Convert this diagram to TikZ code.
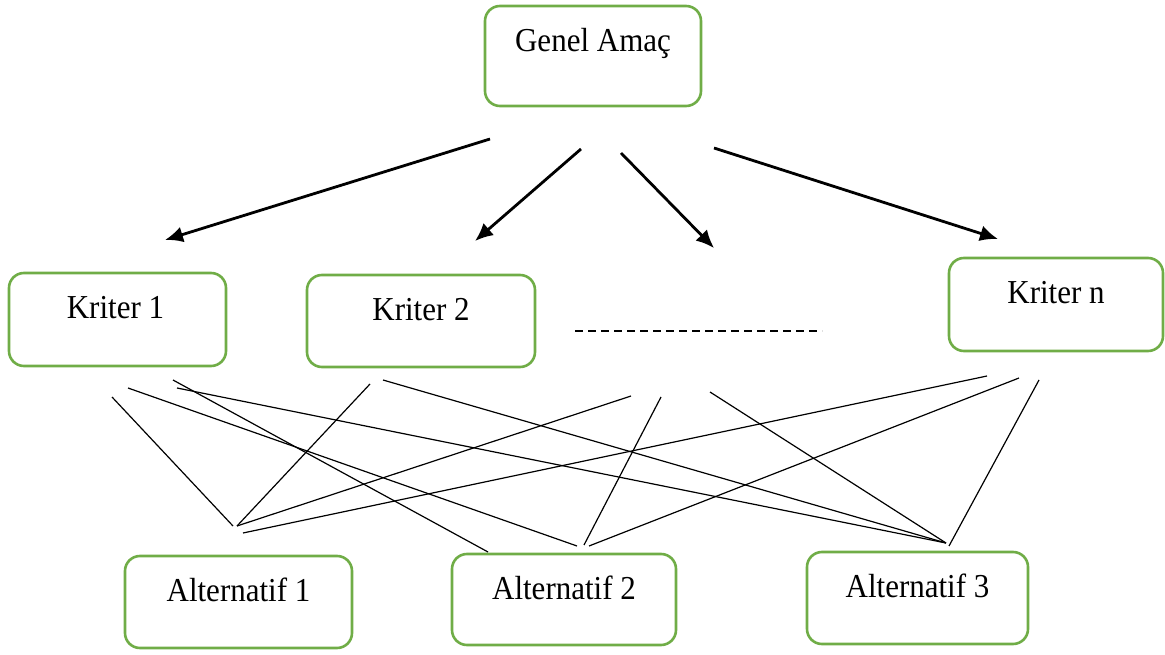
\documentclass[tikz,border=0pt]{standalone}
\usepackage{fontspec}
\setmainfont{Liberation Serif}
\usetikzlibrary{arrows.meta}
\definecolor{boxgreen}{RGB}{112,173,71}
\begin{document}
\begin{tikzpicture}[x=1pt,y=-1pt,
  box/.style={draw=boxgreen, line width=2.6pt, rounded corners=15pt, inner sep=0pt},
  lbl/.style={anchor=base, inner sep=0pt, font=\fontsize{31}{36}\selectfont},
  arr/.style={line width=2.8pt, -{Latex[length=18pt,width=16pt]}},
  link/.style={line width=1.2pt},
  dashline/.style={line width=2.2pt, dash pattern=on 8pt off 5pt}
]
\useasboundingbox (0,0) rectangle (1165,655);

% boxes
\node[box, minimum width=216pt, minimum height=100pt] (goal) at (593,56) {};
\node[box, minimum width=217pt, minimum height=93pt] (k1) at (117.5,319.5) {};
\node[box, minimum width=228pt, minimum height=92pt] (k2) at (421,321) {};
\node[box, minimum width=214pt, minimum height=93pt] (kn) at (1056,304.5) {};
\node[box, minimum width=227pt, minimum height=92pt] (a1) at (238.5,602) {};
\node[box, minimum width=224pt, minimum height=91pt] (a2) at (564,599.5) {};
\node[box, minimum width=221pt, minimum height=92pt] (a3) at (917.5,598) {};

% labels
\node[lbl] (goalt) at ([yshift=-47pt]goal.north) {\scalebox{1}[1.08]{Genel Amaç}};
\node[lbl] (k1t) at ([xshift=-2pt,yshift=-47pt]k1.north) {\scalebox{1}[1.08]{Kriter 1}};
\node[lbl] (k2t) at ([yshift=-47pt]k2.north) {\scalebox{1}[1.08]{Kriter 2}};
\node[lbl] (knt) at ([yshift=-47pt]kn.north) {\scalebox{1}[1.08]{Kriter n}};
\node[lbl] (a1t) at ([yshift=-47pt]a1.north) {\scalebox{1}[1.08]{Alternatif 1}};
\node[lbl] (a2t) at ([yshift=-47pt]a2.north) {\scalebox{1}[1.08]{Alternatif 2}};
\node[lbl] (a3t) at ([yshift=-47pt]a3.north) {\scalebox{1}[1.08]{Alternatif 3}};

% arrows
\coordinate (s1) at (490,139);  \coordinate (e1) at (165,240);
\coordinate (s2) at (581,149);  \coordinate (e2) at (475,241);
\coordinate (s3) at (621,153);  \coordinate (e3) at (714,248);
\coordinate (s4) at (714,148);  \coordinate (e4) at (998,239);
\draw[arr] (s1) -- (e1);
\draw[arr] (s2) -- (e2);
\draw[arr] (s3) -- (e3);
\draw[arr] (s4) -- (e4);

% dashed placeholder
\coordinate (dl) at (575,331);
\coordinate (dr) at (822,331);
\draw[dashline] (dl) -- (dr);

% link end points
\coordinate (p1) at (112,397);
\coordinate (p2) at (128,388);
\coordinate (p3) at (173,380);
\coordinate (p4) at (177,388);
\coordinate (p5) at (370,384);
\coordinate (p6) at (383,380);
\coordinate (p7) at (631,396);
\coordinate (p8) at (661,397);
\coordinate (p9) at (710,392);
\coordinate (p10) at (987,376);
\coordinate (p11) at (1019,378);
\coordinate (p12) at (1039,380);
\coordinate (q1) at (233,526);
\coordinate (q1b) at (237,526);
\coordinate (q1c) at (243,533);
\coordinate (q2) at (577,546);
\coordinate (q2b) at (488,552);
\coordinate (q2c) at (584,545);
\coordinate (q2d) at (589,546);
\coordinate (q3) at (946,543);
\coordinate (q3b) at (949,546);

% links
\draw[link] (p1) -- (q1);
\draw[link] (p2) -- (q2);
\draw[link] (p3) -- (q2b);
\draw[link] (p4) -- (q3);
\draw[link] (p5) -- (q1b);
\draw[link] (p6) -- (q3);
\draw[link] (q1b) -- (p7);
\draw[link] (q1c) -- (p10);
\draw[link] (p8) -- (q2c);
\draw[link] (q2d) -- (p11);
\draw[link] (p9) -- (q3);
\draw[link] (p12) -- (q3b);
\end{tikzpicture}
\end{document}
